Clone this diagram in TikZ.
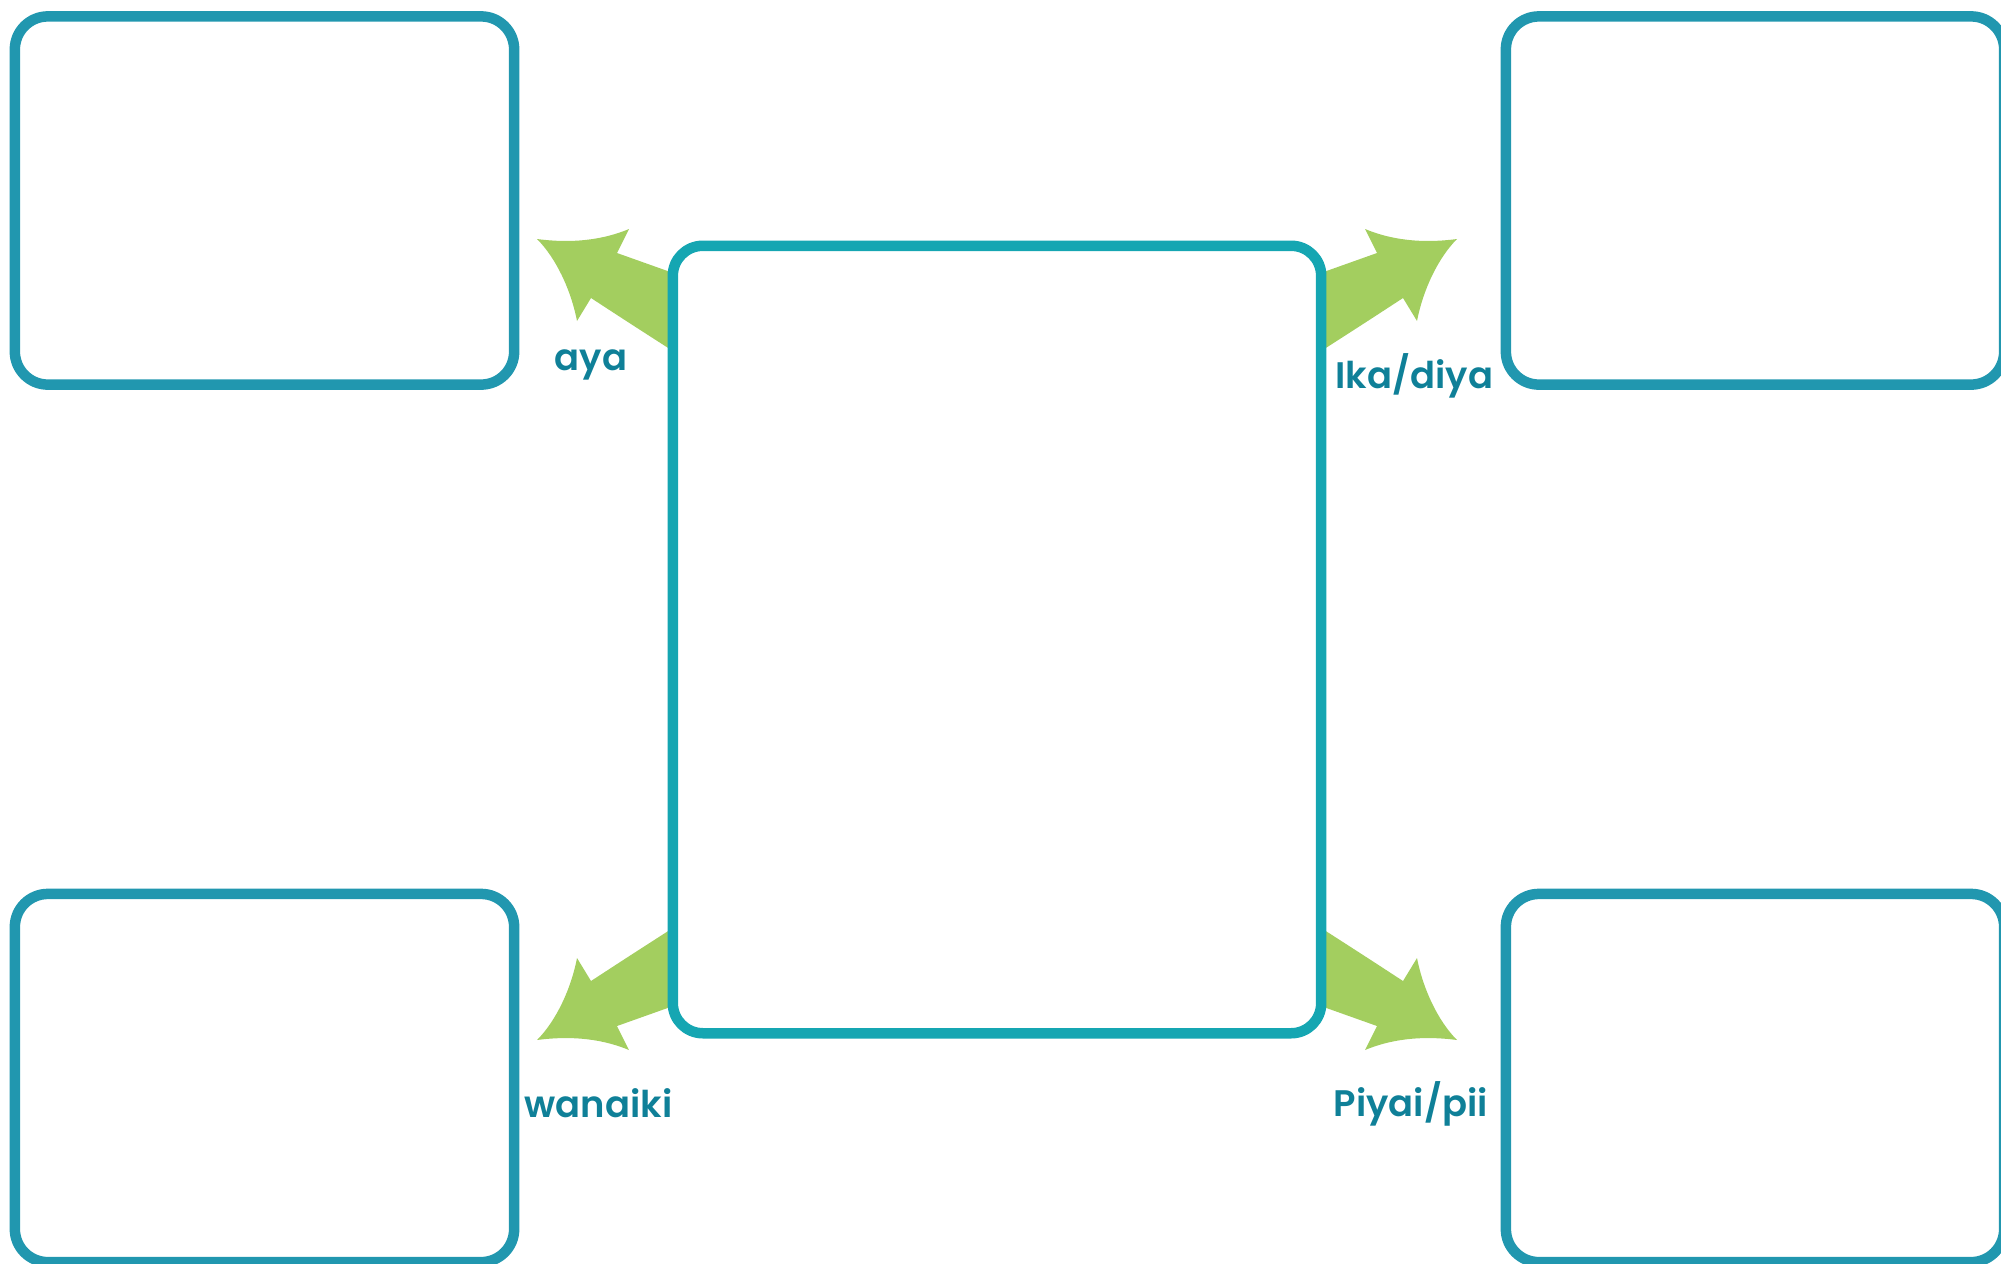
\documentclass[tikz,border=0pt]{standalone}
\usepackage{fontspec}
\setmainfont{Poppins}[BoldFont={Poppins SemiBold}]
\definecolor{boxteal}{HTML}{2197AF}
\definecolor{midteal}{HTML}{15A6B2}
\definecolor{leafgreen}{HTML}{A3CE5F}
\definecolor{labelteal}{HTML}{0F8098}
\tikzset{
  outerbox/.style={draw=boxteal, line width=0.105cm, rounded corners=0.33cm,
    minimum width=4.99cm, minimum height=3.68cm, inner sep=0pt, outer sep=0pt},
  midbox/.style={draw=midteal, line width=0.105cm, rounded corners=0.30cm,
    minimum width=6.48cm, minimum height=7.87cm, inner sep=0pt, outer sep=0pt},
  lbl/.style={text=labelteal, font=\bfseries\fontsize{10.5}{12.5}\selectfont,
    inner sep=0pt, anchor=base west},
  bigarrow/.pic={
    \fill[leafgreen] (-321,-365.5) -- (-380,-386.5) -- (-368,-410.5)
      .. controls (-392,-400.5) and (-422,-395.5) .. (-460,-400.5)
      .. controls (-441,-381.5) and (-426,-349.5) .. (-420,-318.5)
      -- (-406,-341.5) .. controls (-370,-318) .. (-321,-286.5) -- cycle;
  }
}
\begin{document}
\begin{tikzpicture}[x=0.01cm, y=-0.01cm]
            \useasboundingbox (0,0) rectangle (2001,1263);
            % Corner boxes
            \node[outerbox] (topleft) at (264.5,200.5) {};
            \node[outerbox, minimum width=4.98cm] (topright) at (1755,200.5) {};
            \node[outerbox] (botleft) at (264.5,1078) {};
            \node[outerbox, minimum width=4.98cm] (botright) at (1755,1078) {};
            % Arrows out of the middle
            \coordinate (mid) at (997,639.5);
            \pic at (mid) {bigarrow};
            \pic[xscale=-1] at (mid) {bigarrow};
            \pic[yscale=-1] at (mid) {bigarrow};
            \pic[xscale=-1, yscale=-1] at (mid) {bigarrow};
            % Middle box
            \node[midbox] (centre) at (mid) {};
            % Labels
            \node[lbl] (aya) at (554,370) {aya};
            \node[lbl] (ika) at (1335,388) {Ika/diya};
            \node[lbl] (wanaiki) at (524,1117) {wanaiki};
            \node[lbl] (piyai) at (1333,1116) {Piyai/pii};
        \end{tikzpicture}
\end{document}
